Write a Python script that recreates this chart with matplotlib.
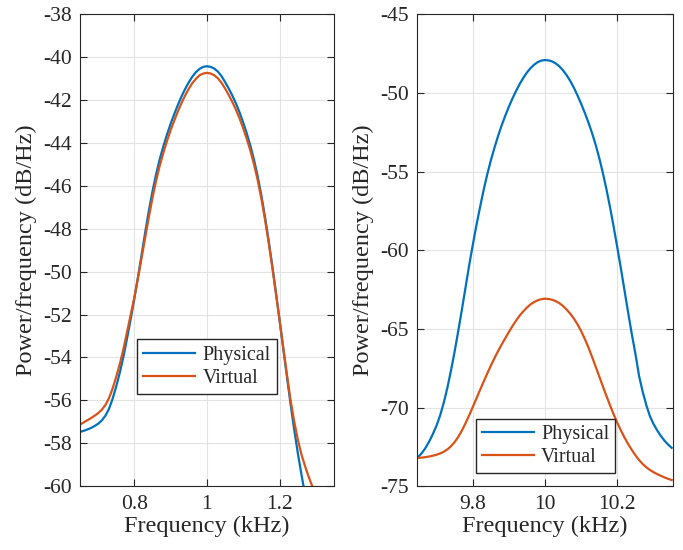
import numpy as np
import matplotlib.pyplot as plt

# left panel: ~1 kHz band
f_low = [0.65, 0.66, 0.67, 0.68, 0.69, 0.70, 0.71, 0.72, 0.73, 0.74, 0.75, 0.76, 0.77,
         0.78, 0.79, 0.80, 0.81, 0.82, 0.83, 0.84, 0.85, 0.86, 0.87, 0.88, 0.89, 0.90,
         0.91, 0.92, 0.93, 0.94, 0.95, 0.96, 0.97, 0.98, 0.99, 1.00, 1.01, 1.02, 1.03,
         1.04, 1.05, 1.06, 1.07, 1.08, 1.09, 1.10, 1.11, 1.12, 1.13, 1.14, 1.15, 1.16,
         1.17, 1.18, 1.19, 1.20, 1.21, 1.22, 1.23, 1.24, 1.25, 1.26, 1.27, 1.28, 1.29, 1.30]
phys_low = [-57.47, -57.42, -57.36, -57.29, -57.20, -57.09, -56.94, -56.72, -56.40, -55.93,
            -55.35, -54.70, -53.95, -53.10, -52.20, -51.25, -50.25, -49.20, -48.15, -47.15,
            -46.25, -45.45, -44.75, -44.15, -43.60, -43.10, -42.65, -42.22, -41.83, -41.48,
            -41.17, -40.90, -40.69, -40.54, -40.45, -40.42, -40.45, -40.53, -40.67, -40.88,
            -41.16, -41.46, -41.79, -42.16, -42.58, -43.05, -43.57, -44.15, -44.81, -45.57,
            -46.45, -47.45, -48.55, -49.73, -50.97, -52.25, -53.55, -54.85, -56.12, -57.32,
            -58.42, -59.42, -60.37, -61.30, -62.20, -63.10]
virt_low = [-57.13, -57.03, -56.93, -56.83, -56.72, -56.60, -56.44, -56.22, -55.90, -55.45,
            -54.90, -54.30, -53.60, -52.80, -52.00, -51.20, -50.30, -49.35, -48.40, -47.45,
            -46.55, -45.75, -45.05, -44.45, -43.90, -43.40, -42.95, -42.52, -42.13, -41.78,
            -41.47, -41.20, -41.00, -40.84, -40.76, -40.73, -40.76, -40.84, -40.98, -41.19,
            -41.46, -41.76, -42.09, -42.45, -42.86, -43.32, -43.82, -44.38, -45.02, -45.75,
            -46.60, -47.57, -48.64, -49.79, -51.00, -52.25, -53.52, -54.75, -55.95, -56.95,
            -57.80, -58.50, -59.05, -59.55, -60.00, -60.45]

# right panel: ~10 kHz band
f_high = [9.65, 9.66, 9.67, 9.68, 9.69, 9.70, 9.71, 9.72, 9.73, 9.74, 9.75, 9.76, 9.77,
          9.78, 9.79, 9.80, 9.81, 9.82, 9.83, 9.84, 9.85, 9.86, 9.87, 9.88, 9.89, 9.90,
          9.91, 9.92, 9.93, 9.94, 9.95, 9.96, 9.97, 9.98, 9.99, 10.00, 10.01, 10.02, 10.03,
          10.04, 10.05, 10.06, 10.07, 10.08, 10.09, 10.10, 10.11, 10.12, 10.13, 10.14, 10.15,
          10.16, 10.17, 10.18, 10.19, 10.20, 10.21, 10.22, 10.23, 10.24, 10.25, 10.26, 10.27,
          10.28, 10.29, 10.30, 10.31, 10.32, 10.33, 10.34, 10.35]
phys_high = [-73.13, -72.88, -72.55, -72.15, -71.68, -71.15, -70.50, -69.70, -68.75, -67.65,
             -66.45, -65.15, -63.80, -62.40, -61.00, -59.70, -58.45, -57.30, -56.20, -55.20,
             -54.30, -53.50, -52.75, -52.07, -51.45, -50.88, -50.35, -49.87, -49.43, -49.04,
             -48.70, -48.42, -48.20, -48.04, -47.94, -47.91, -47.93, -48.00, -48.13, -48.32,
             -48.57, -48.88, -49.25, -49.68, -50.17, -50.70, -51.27, -51.88, -52.55, -53.30,
             -54.15, -55.10, -56.15, -57.30, -58.55, -59.85, -61.20, -62.60, -64.00, -65.35,
             -66.60, -68.00, -69.00, -69.85, -70.55, -71.05, -71.45, -71.80, -72.10, -72.35,
             -72.56]
virt_high = [-73.20, -73.18, -73.15, -73.11, -73.06, -73.00, -72.92, -72.81, -72.66, -72.46,
             -72.20, -71.87, -71.47, -71.01, -70.51, -69.98, -69.44, -68.90, -68.37, -67.85,
             -67.35, -66.87, -66.42, -66.00, -65.60, -65.20, -64.82, -64.47, -64.15, -63.88,
             -63.64, -63.44, -63.29, -63.18, -63.11, -63.08, -63.10, -63.15, -63.24, -63.37,
             -63.55, -63.78, -64.04, -64.35, -64.72, -65.15, -65.64, -66.18, -66.78, -67.40,
             -68.03, -68.66, -69.28, -69.88, -70.45, -70.98, -71.47, -71.92, -72.33, -72.70,
             -73.04, -73.34, -73.59, -73.80, -73.97, -74.11, -74.23, -74.34, -74.44, -74.53,
             -74.61]

blue = '#0072BD'
orange = '#D95319'
dark = '#262626'

plt.rcParams['font.family'] = ['Liberation Serif', 'DejaVu Serif']
plt.rcParams['axes.unicode_minus'] = False
plt.rcParams['text.color'] = dark
plt.rcParams['axes.labelcolor'] = dark
plt.rcParams['xtick.color'] = dark
plt.rcParams['ytick.color'] = dark

fig = plt.figure(figsize=(6.83, 5.5), dpi=100)
ax1 = fig.add_axes([0.117, 0.116, 0.372, 0.858])
ax2 = fig.add_axes([0.6105, 0.116, 0.375, 0.858])

def style(ax):
    ax.grid(True, color='#E3E3E3', linewidth=0.8)
    ax.set_axisbelow(True)
    for s in ax.spines.values():
        s.set_color(dark)
        s.set_linewidth(0.8)
    ax.tick_params(direction='in', top=True, right=True, labelsize=15.5, length=5,
                   width=0.8, pad=6)
    ax.set_xlabel('Frequency (kHz)', fontsize=17.5, labelpad=2)
    ax.set_ylabel('Power/frequency (dB/Hz)', fontsize=17.5, labelpad=4)

leg_kw = dict(loc='upper left', fontsize=14.5, fancybox=False, edgecolor=dark,
              framealpha=1, borderpad=0.3, labelspacing=0.2, handlelength=2.6,
              handletextpad=0.35, borderaxespad=0)

ax1.plot(f_low, phys_low, color=blue, lw=1.6, label='Physical')
ax1.plot(f_low, virt_low, color=orange, lw=1.6, label='Virtual')
ax1.set_xlim(0.65, 1.35)
ax1.set_ylim(-60, -38)
ax1.set_xticks([0.8, 1.0, 1.2])
ax1.set_xticklabels(['0.8', '1', '1.2'])
ax1.set_yticks(np.arange(-60, -37, 2))
style(ax1)
ax1.legend(bbox_to_anchor=(0.224, 0.311), **leg_kw)

ax2.plot(f_high, phys_high, color=blue, lw=1.6, label='Physical')
ax2.plot(f_high, virt_high, color=orange, lw=1.6, label='Virtual')
ax2.set_xlim(9.646, 10.354)
ax2.set_ylim(-75, -45)
ax2.set_xticks([9.8, 10.0, 10.2])
ax2.set_xticklabels(['9.8', '10', '10.2'])
ax2.set_yticks(np.arange(-75, -44, 5))
style(ax2)
ax2.legend(bbox_to_anchor=(0.229, 0.142), **leg_kw)

fig.savefig('out.png', dpi=100)
